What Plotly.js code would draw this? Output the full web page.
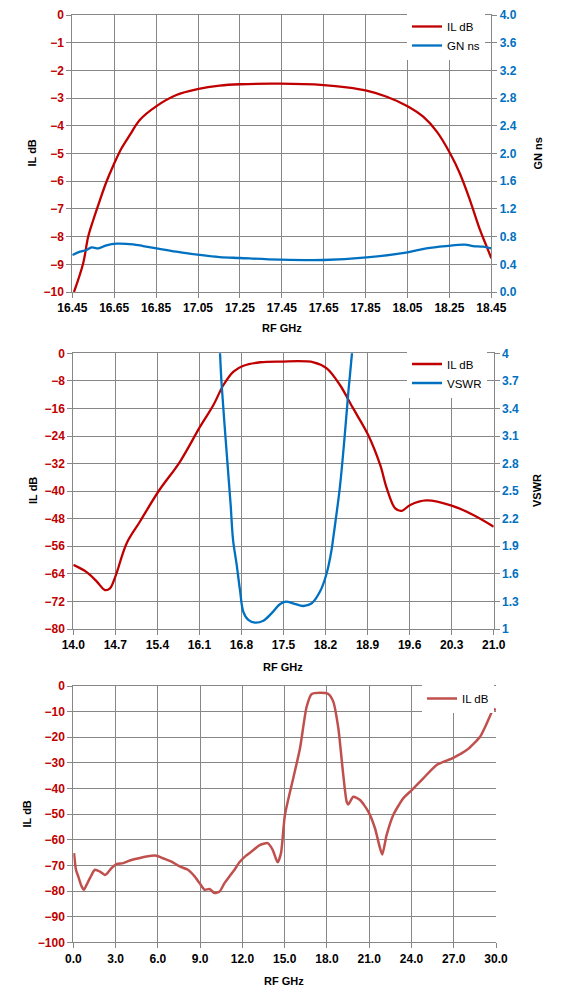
<!DOCTYPE html>
<html>
<head>
<meta charset="utf-8">
<script src="https://cdn.plot.ly/plotly-3.0.1.min.js"></script>
<style>html,body{margin:0;padding:0;background:#fff;}#chart{width:561px;height:1005px;}</style>
</head>
<body>
<div id="chart"></div>
<script>
// ---------- Chart 1: IL dB and GN ns, 16.45 - 18.45 GHz ----------
const il1Freq = [16.458,16.502,16.526,16.55,16.582,16.613,16.65,16.685,16.725,16.772,16.852,16.947,17.047,17.153,17.25,17.44,17.65,17.76,17.855,17.951,18.05,18.125,18.19,18.253,18.30,18.348,18.396,18.428,18.45];
const il1 = [-10,-8.96,-8.0,-7.4,-6.68,-6.02,-5.36,-4.81,-4.33,-3.79,-3.29,-2.89,-2.68,-2.55,-2.50,-2.48,-2.53,-2.61,-2.73,-2.95,-3.29,-3.67,-4.21,-4.99,-5.72,-6.68,-7.76,-8.36,-8.78];
const gnFreq = [16.45,16.487,16.518,16.542,16.574,16.613,16.661,16.74,16.788,16.852,16.947,17.047,17.153,17.25,17.44,17.65,17.855,18.05,18.14,18.235,18.323,18.363,18.41,18.45];
const gn = [0.534,0.582,0.606,0.645,0.63,0.674,0.698,0.688,0.664,0.63,0.582,0.539,0.505,0.491,0.467,0.462,0.50,0.573,0.63,0.664,0.684,0.664,0.655,0.63];

// ---------- Chart 2: IL dB and VSWR, 14 - 21 GHz ----------
const il2Freq = [14.0,14.222,14.389,14.528,14.611,14.7,14.889,15.111,15.417,15.778,16.111,16.333,16.5,16.667,16.833,17.111,17.444,18.0,18.22,18.44,18.66,18.91,19.11,19.22,19.36,19.47,19.61,19.88,20.3,20.66,21.0];
const il2 = [-61.4,-63.5,-66.2,-68.7,-68.2,-64.8,-55.1,-48.8,-40.1,-31.4,-21.3,-15.0,-9.2,-5.3,-3.6,-2.6,-2.4,-2.6,-4.35,-9.2,-16.0,-23.7,-32.4,-39.2,-45.0,-45.7,-44.0,-42.7,-44.2,-46.9,-50.3];
const vswrFreq = [16.40,16.443,16.47,16.55,16.62,16.66,16.72,16.776,16.83,16.914,17.025,17.164,17.30,17.44,17.54,17.66,17.83,17.97,18.11,18.22,18.30,18.33,18.44,18.52,18.58,18.64,18.70];
const vswr = [4.6,4.0,3.66,2.95,2.35,1.97,1.70,1.42,1.19,1.098,1.069,1.09,1.17,1.27,1.297,1.28,1.25,1.28,1.41,1.61,1.86,2.0,2.55,3.11,3.58,4.0,4.5];

// ---------- Chart 3: IL dB, 0 - 30 GHz ----------
const il3Freq = [0.05,0.19,0.35,0.59,0.75,0.94,1.18,1.53,1.89,2.24,2.36,2.71,3.07,3.54,4.01,4.48,5.19,5.9,6.37,6.96,7.55,8.14,8.61,8.96,9.32,9.67,10.02,10.38,10.73,11.08,11.44,11.79,12.26,12.74,13.2,13.8,14.15,14.5,14.74,15.02,15.61,16.09,16.56,16.92,17.51,18.1,18.45,18.81,19.16,19.4,19.52,19.87,20.35,20.94,21.41,21.77,21.93,22.24,22.71,23.42,24.02,24.84,25.79,26.97,27.92,28.87,29.2,29.55,29.82,30.0];
const il3 = [-65.2,-71.7,-74.3,-78.2,-79.5,-77.6,-75.0,-71.7,-72.4,-73.7,-73.4,-71.1,-69.5,-69.1,-68.1,-67.4,-66.5,-66.2,-67.2,-68.5,-70.4,-71.7,-74.3,-76.9,-79.5,-79.2,-80.8,-80.2,-76.9,-74.3,-71.7,-68.8,-66.2,-64.2,-62.2,-61.3,-63.9,-68.8,-65.2,-50.3,-36.0,-24.3,-8.1,-3.1,-2.6,-3.1,-6.1,-16.5,-34.7,-45.1,-46.2,-43.2,-44.5,-49.0,-55.5,-63.3,-65.7,-58.1,-50.3,-43.8,-40.6,-36.0,-30.8,-28.0,-25.0,-19.8,-16.3,-12.0,-9.0,-9.4];

const W = 561, H = 1005;
const px = v => v / W;
const py = v => 1 - v / H;

const RED = '#C00000', BLUE = '#0070C0', RED3 = '#C0504D', GRID = '#878787';
const FONT = 'Liberation Sans, Arial, sans-serif';

const traces = [
  {x: il1Freq, y: il1, name: 'IL dB', type: 'scatter', mode: 'lines', line: {color: RED, width: 2.3, shape: 'spline'}, xaxis: 'x', yaxis: 'y', legend: 'legend'},
  {x: gnFreq, y: gn, name: 'GN ns', type: 'scatter', mode: 'lines', line: {color: BLUE, width: 2.3, shape: 'spline'}, xaxis: 'x', yaxis: 'y2', legend: 'legend'},
  {x: il2Freq, y: il2, name: 'IL dB', type: 'scatter', mode: 'lines', line: {color: RED, width: 2.3, shape: 'spline'}, xaxis: 'x2', yaxis: 'y3', legend: 'legend2'},
  {x: vswrFreq, y: vswr, name: 'VSWR', type: 'scatter', mode: 'lines', line: {color: BLUE, width: 2.3, shape: 'spline'}, xaxis: 'x2', yaxis: 'y4', legend: 'legend2'},
  {x: il3Freq, y: il3, name: 'IL dB', type: 'scatter', mode: 'lines', line: {color: RED3, width: 2.5, shape: 'spline', smoothing: 0.6}, xaxis: 'x3', yaxis: 'y5', legend: 'legend3'}
];

const tickFontBlack = {family: FONT, size: 12, color: '#000', weight: 700};
const tickFontRed = {family: FONT, size: 12, color: RED, weight: 700};
const tickFontBlue = {family: FONT, size: 12, color: BLUE, weight: 700};

function xAx(domain, range, dtick, fmt, anchor) {
  return {domain: domain, range: range, tick0: range[0], dtick: dtick, tickformat: fmt, anchor: anchor,
    showgrid: true, gridcolor: GRID, gridwidth: 1, zeroline: false, showline: true, linecolor: GRID, linewidth: 1,
    mirror: true, ticks: 'outside', ticklen: 5, tickcolor: GRID, tickfont: tickFontBlack, fixedrange: true};
}
function yAx(domain, range, dtick, anchor, font) {
  return {domain: domain, range: range, tick0: range[0], dtick: dtick, anchor: anchor,
    showgrid: true, gridcolor: GRID, gridwidth: 1, zeroline: false, showline: true, linecolor: GRID, linewidth: 1,
    ticks: 'outside', ticklen: 5, tickcolor: GRID, tickfont: font, fixedrange: true};
}
function yRight(range, dtick, fmt, anchor, overlay) {
  return {range: range, tick0: range[0], dtick: dtick, tickformat: fmt, anchor: anchor, overlaying: overlay, side: 'right',
    showgrid: false, zeroline: false, showline: true, linecolor: GRID, linewidth: 1,
    ticks: 'outside', ticklen: 5, tickcolor: GRID, tickfont: tickFontBlue, fixedrange: true};
}

const d1x = [px(72.3), px(491.3)], d1y = [py(292), py(15)];
const d2x = [px(73.3), px(493.7)], d2y = [py(629), py(353.3)];
const d3x = [px(73.3), px(496)], d3y = [py(942.3), py(686)];

function ann(text, x, y, angle) {
  return {text: text, x: px(x), y: py(y), xref: 'paper', yref: 'paper', showarrow: false,
    xanchor: 'center', yanchor: 'middle', textangle: angle || 0,
    font: {family: FONT, size: 11, color: '#000', weight: 700}};
}

const legendBase = {xref: 'paper', yref: 'paper', xanchor: 'left', yanchor: 'top', bgcolor: '#ffffff',
  borderwidth: 0, font: {family: FONT, size: 11.5, color: '#000'}, itemwidth: 30, tracegroupgap: 0};

const layout = {
  width: W, height: H,
  margin: {l: 0, r: 0, t: 0, b: 0, pad: 0},
  paper_bgcolor: '#fff', plot_bgcolor: '#fff',
  showlegend: true,
  xaxis: xAx(d1x, [16.45, 18.45], 0.2, '.2f', 'y'),
  yaxis: yAx(d1y, [-10, 0], 1, 'x', tickFontRed),
  yaxis2: yRight([0, 4], 0.4, '.1f', 'x', 'y'),
  xaxis2: xAx(d2x, [14, 21], 0.7, '.1f', 'y3'),
  yaxis3: yAx(d2y, [-80, 0], 8, 'x2', tickFontRed),
  yaxis4: yRight([1, 4], 0.3, '', 'x2', 'y3'),
  xaxis3: xAx(d3x, [0, 30], 3, '.1f', 'y5'),
  yaxis5: yAx(d3y, [-100, 0], 10, 'x3', tickFontRed),
  legend: Object.assign({}, legendBase, {x: px(407), y: py(12)}),
  legend2: Object.assign({}, legendBase, {x: px(407), y: py(349.5)}),
  legend3: Object.assign({}, legendBase, {x: px(422), y: py(684)}),
  annotations: [
    ann('IL dB', 31, 153.5, -90), ann('GN ns', 537, 153.5, -90), ann('RF GHz', 282, 328),
    ann('IL dB', 33, 491, -90), ann('VSWR', 537, 491, -90), ann('RF GHz', 283, 667),
    ann('IL dB', 26.5, 814, -90), ann('RF GHz', 284, 981)
  ]
};

Plotly.newPlot('chart', traces, layout, {displayModeBar: false, staticPlot: true});
</script>
</body>
</html>
